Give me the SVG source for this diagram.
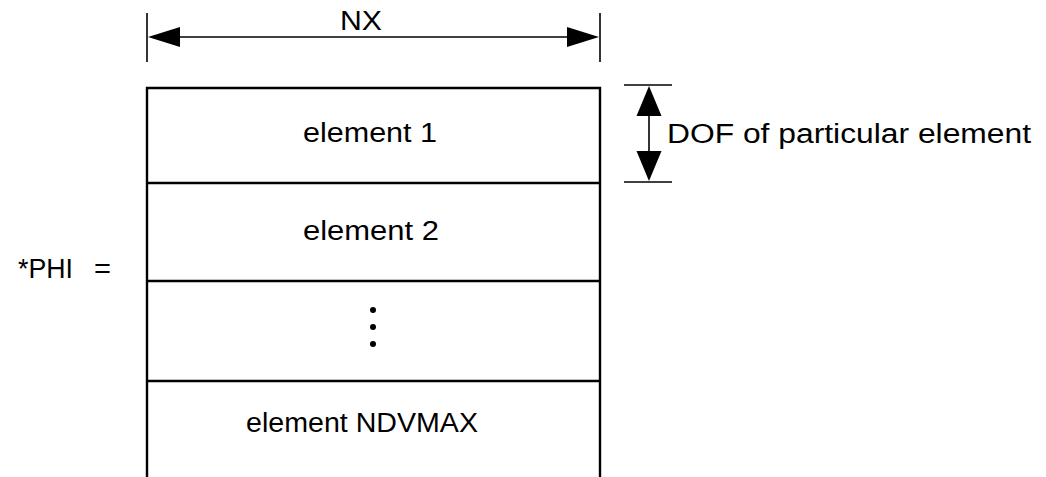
<svg xmlns="http://www.w3.org/2000/svg" width="1046" height="477" viewBox="0 0 1046 477">
  <style>
    .lbl { font-family: "Liberation Sans", Arial, Helvetica, sans-serif; font-size: 27px; fill: #000; }
    .edge { stroke: #000; stroke-width: 2.4; fill: none; }
    .dim { stroke: #000; stroke-width: 1.6; fill: none; }
    .head { fill: #000; stroke: none; }
  </style>
  <rect width="1046" height="477" fill="#fff"/>

  <!-- array label -->
  <g id="label-phi">
    <text class="lbl" x="18" y="278" textLength="55" lengthAdjust="spacingAndGlyphs">*PHI</text>
    <text class="lbl" x="94" y="278" textLength="17" lengthAdjust="spacingAndGlyphs">=</text>
  </g>

  <!-- stacked element blocks of the array -->
  <g id="array-outline">
    <path class="edge" d="M147 477 V88 H600 V477"/>
  </g>
  <g id="element-1">
    <text class="lbl" x="370" y="142" text-anchor="middle" textLength="134" lengthAdjust="spacingAndGlyphs">element 1</text>
    <line class="edge" x1="147" y1="183" x2="600" y2="183"/>
  </g>
  <g id="element-2">
    <text class="lbl" x="371" y="240" text-anchor="middle" textLength="136" lengthAdjust="spacingAndGlyphs">element 2</text>
    <line class="edge" x1="147" y1="281" x2="600" y2="281"/>
  </g>
  <g id="element-more">
    <circle cx="373" cy="310" r="3"/>
    <circle cx="373" cy="327" r="3"/>
    <circle cx="373" cy="344" r="3"/>
    <line class="edge" x1="147" y1="381" x2="600" y2="381"/>
  </g>
  <g id="element-ndvmax">
    <text class="lbl" x="246" y="432" textLength="232" lengthAdjust="spacingAndGlyphs">element NDVMAX</text>
  </g>

  <!-- dimension markers -->
  <g id="connectors">
    <!-- width NX -->
    <line class="dim" x1="147" y1="13" x2="147" y2="62"/>
    <line class="dim" x1="600" y1="13" x2="600" y2="62"/>
    <line class="dim" x1="170" y1="37" x2="578" y2="37"/>
    <polygon class="head" points="148,37 180,27 180,47"/>
    <polygon class="head" points="599,37 567,27 567,47"/>
    <!-- height of one element -->
    <line class="dim" x1="624" y1="85" x2="672" y2="85"/>
    <line class="dim" x1="624" y1="182" x2="672" y2="182"/>
    <line class="dim" x1="649" y1="105" x2="649" y2="162"/>
    <polygon class="head" points="649,86 636.5,116 661.5,116"/>
    <polygon class="head" points="649,181 636.5,151 661.5,151"/>
  </g>

  <g id="label-nx">
    <text class="lbl" x="361" y="30" text-anchor="middle" textLength="42" lengthAdjust="spacingAndGlyphs">NX</text>
  </g>
  <g id="label-dof">
    <text class="lbl" x="667" y="143" textLength="364" lengthAdjust="spacingAndGlyphs">DOF of particular element</text>
  </g>
</svg>
